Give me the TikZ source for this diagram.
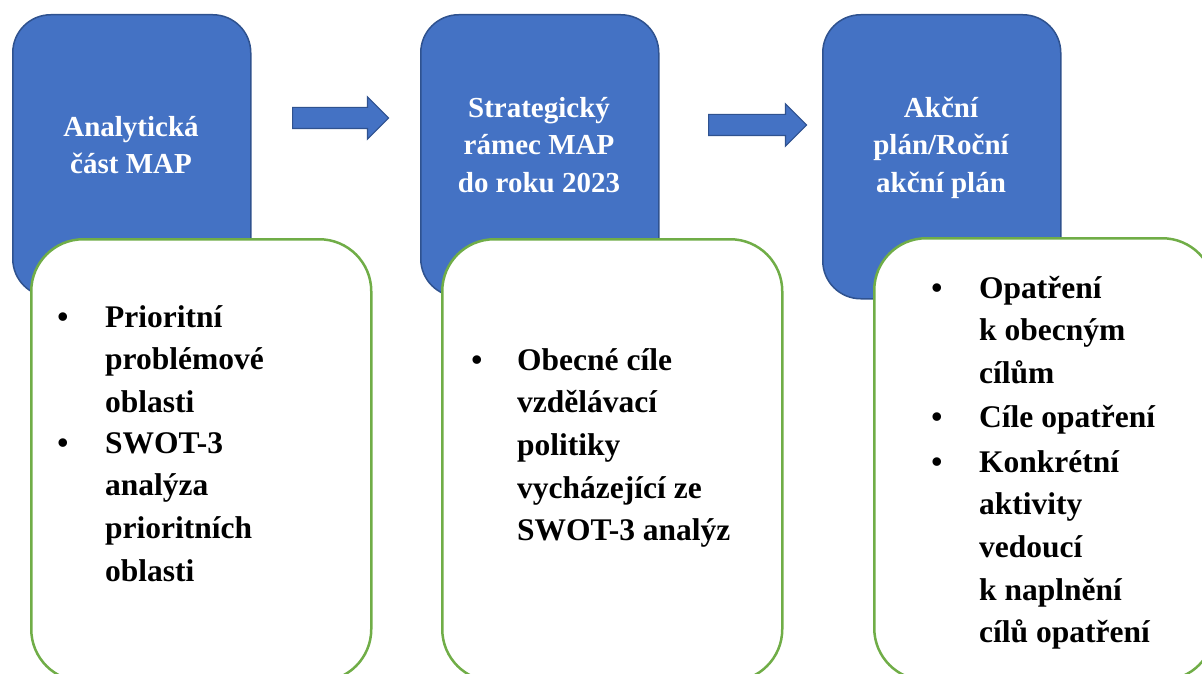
\documentclass[tikz,border=0pt]{standalone}
\usepackage{fontspec}
\setmainfont{Liberation Serif}
\usetikzlibrary{shapes.arrows}
\definecolor{bfill}{HTML}{4472C4}
\definecolor{bline}{HTML}{2F528F}
\definecolor{gline}{HTML}{70AD47}
\begin{document}
\begin{tikzpicture}[x=1pt,y=-1pt,
 bluebox/.style={draw=bline, fill=bfill, line width=1.5pt, rounded corners=38pt, minimum width=238pt, minimum height=282pt, inner sep=0pt, anchor=north west},
 greenbox/.style={draw=gline, fill=white, line width=2.5pt, rounded corners=52pt, minimum width=340pt, minimum height=442pt, inner sep=0pt, anchor=north west},
 btext/.style={text=white, font=\fontsize{29}{37}\selectfont\bfseries, align=center, anchor=base, inner sep=0pt},
 gtext/.style={font=\fontsize{31.5}{42.7}\selectfont\bfseries, align=left, anchor=base west, inner sep=0pt},
 bul/.style={font=\fontsize{31.5}{42.7}\selectfont\bfseries, anchor=base, inner sep=0pt},
 flow/.style={single arrow, draw=bline, fill=bfill, line width=1.2pt, inner xsep=0pt, inner ysep=10pt, single arrow head extend=10.5pt, anchor=west}
]
\useasboundingbox (0,0) rectangle (1202,674);
\clip (0,0) rectangle (1202,674);

% blue boxes
\node[bluebox] (b1) at (12,14) {};
\node[bluebox] (b2) at (420,14) {};
\node[bluebox, minimum height=284pt] (b3) at (822,14) {};

% arrows
\node[flow, minimum height=96pt] (a1) at (292,118) {};
\node[flow, minimum height=98pt] (a2) at (708,125) {};

% blue texts (base anchor = baseline of last line)
\node[btext] (t1) at (131,174) {Analytická\\část MAP};
\node[btext] (t2) at (539,192) {Strategický\\rámec MAP\\do roku 2023};
\node[btext] (t3) at (941,192) {Akční\\plán/Roční\\akční plán};

% green boxes
\node[greenbox] (g1) at (30,238) {};
\node[greenbox] (g2) at (441,238) {};
\node[greenbox] (g3) at (873,237) {};

% box 1 list
\node[bul] (p1) at (63,327) {•};
\node[gtext] (q1) at (105,412.4) {Prioritní\\problémové\\oblasti};
\node[bul] (p2) at (63,453) {•};
\node[gtext] (q2) at (105,581.1) {SWOT-3\\analýza\\prioritních\\oblasti};

% box 2 list
\node[bul] (p3) at (477,370) {•};
\node[gtext] (q3) at (517,540.8) {Obecné cíle\\vzdělávací\\politiky\\vycházející ze\\SWOT-3 analýz};

% box 3 list
\node[bul] (p4) at (937,298) {•};
\node[gtext] (q4) at (979,383.4) {Opatření\\k~obecným\\cílům};
\node[bul] (p5) at (937,427) {•};
\node[gtext] (q5) at (979,427) {Cíle opatření};
\node[bul] (p6) at (937,472) {•};
\node[gtext] (q6) at (979,642.8) {Konkrétní\\aktivity\\vedoucí\\k~naplnění\\cílů opatření};
\end{tikzpicture}
\end{document}
